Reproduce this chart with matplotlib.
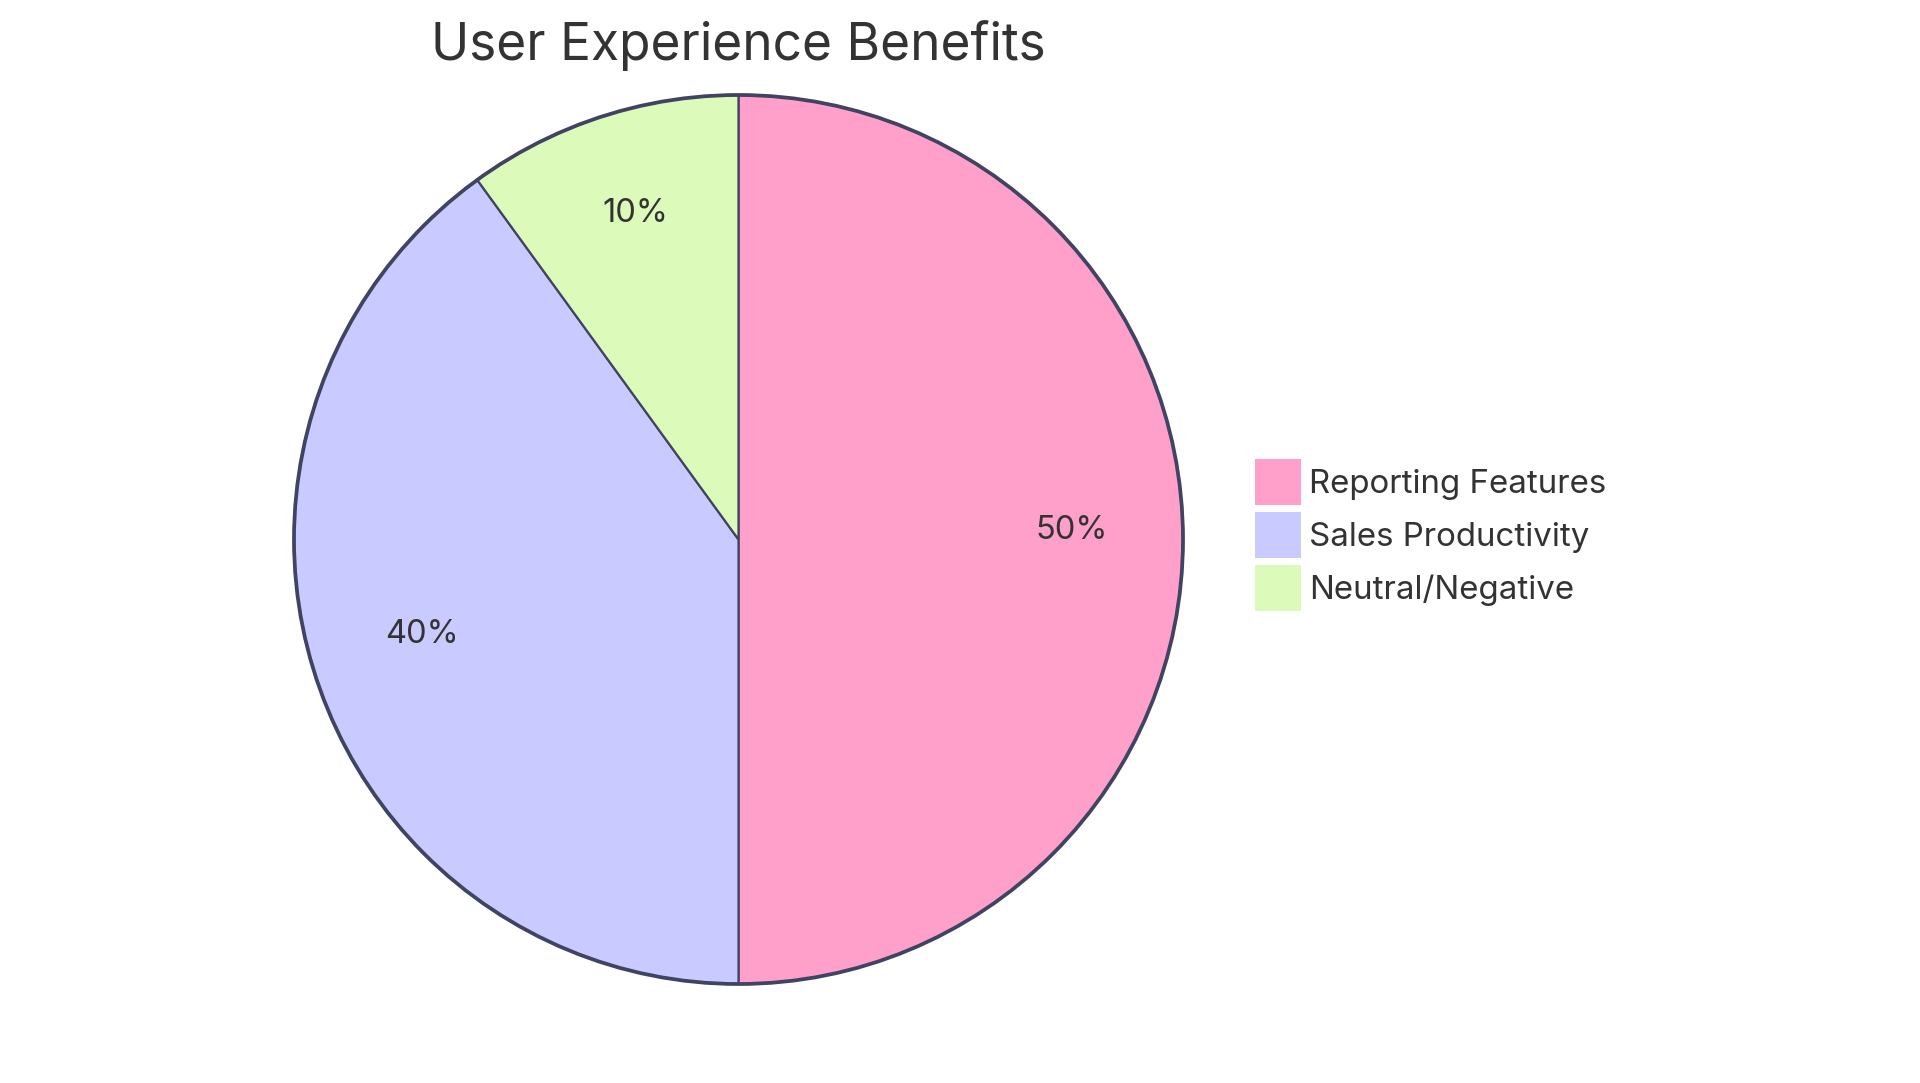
import matplotlib
matplotlib.use("Agg")
import matplotlib.pyplot as plt
from matplotlib.patches import Circle

labels = ["Reporting Features", "Sales Productivity", "Neutral/Negative"]
values = [50, 40, 10]
colors = ["#FFA0CB", "#C9CAFF", "#DCFABA"]
title = "User Experience Benefits"

W, H = 1920, 1083
CX, CY, R = 738.5, 539.5, 444.5
EDGE = "#404462"
TXT = "#333333"
FONT = "Inter"

fig = plt.figure(figsize=(W / 100, H / 100), dpi=100, facecolor="white")
ax = fig.add_axes([(CX - R) / W, 1 - (CY + R) / H, 2 * R / W, 2 * R / H])
ax.set_xlim(-1, 1)
ax.set_ylim(-1, 1)
ax.set_aspect("equal")
ax.axis("off")

wedges, _, autotexts = ax.pie(
    values, colors=colors, startangle=90, counterclock=False, radius=1,
    center=(0, 0), frame=False, autopct="%d%%", pctdistance=0.75,
    wedgeprops=dict(edgecolor=EDGE, linewidth=1.6),
    textprops=dict(family=FONT, fontsize=23.5, color=TXT, fontweight="normal"),
)
ax.set_xlim(-1, 1)
ax.set_ylim(-1, 1)
for t in autotexts:
    t.set_va("baseline")
ax.add_patch(Circle((0, 0), 1, fill=False, edgecolor=EDGE, linewidth=2.7, clip_on=False, zorder=5))

fig.text(CX / W, 1 - 60 / H, title, ha="center", va="baseline", family=FONT,
         fontsize=37, color=TXT, fontweight="normal")

fs = 23.8
fpx = fs * 100 / 72
handle_h = (46 / fpx - 0.245) / 0.65
leg = fig.legend(
    wedges, labels, loc="upper left", bbox_to_anchor=(1255 / W, 1 - 459 / H),
    frameon=False, borderpad=0, borderaxespad=0,
    handlelength=46 / fpx, handleheight=handle_h, handletextpad=8 / fpx, labelspacing=7 / fpx,
    prop=dict(family=FONT, size=fs, weight="normal"), labelcolor=TXT,
)
for h in leg.legend_handles:
    h.set_edgecolor("none")
    h.set_linewidth(0)

fig.savefig("out.png", dpi=100, facecolor="white")
